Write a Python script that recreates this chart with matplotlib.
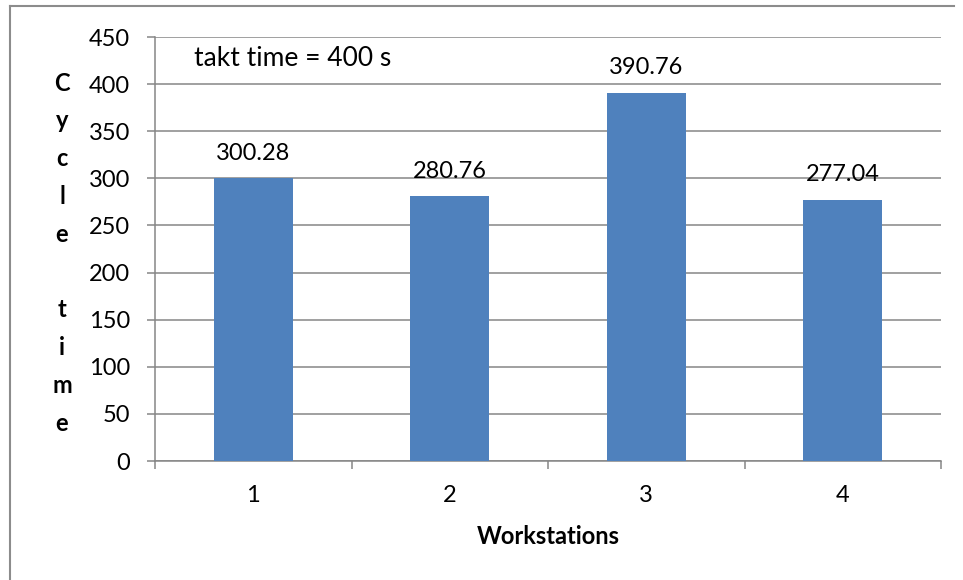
import matplotlib.pyplot as plt
from matplotlib.lines import Line2D

workstations = ["1", "2", "3", "4"]
cycle_times = [300.28, 280.76, 390.76, 277.04]
y_ticks = [0, 50, 100, 150, 200, 250, 300, 350, 400, 450]
takt_note = "takt time = 400 s"

plt.rcParams["font.family"] = ["Lato", "DejaVu Sans"]
grey = "#868686"

fig = plt.figure(figsize=(9.63, 5.80), dpi=100)
ax = fig.add_axes([155 / 963, 1 - 461 / 580, (941 - 155) / 963, (461 - 37) / 580])

x = list(range(len(workstations)))
ax.bar(x, cycle_times, width=0.4, color="#4F81BD", zorder=3)
for xi, v in zip(x, cycle_times):
    ax.annotate(f"{v:.2f}", (xi, v), xytext=(0, 18), textcoords="offset points",
                ha="center", va="center", fontsize=17, zorder=4)

ax.set_xlim(-0.5, len(workstations) - 0.5)
ax.set_ylim(0, 450)
ax.set_yticks(y_ticks)
ax.yaxis.grid(True, color=grey, linewidth=1.1, zorder=0)
ax.set_axisbelow(True)

ax.set_xticks(x)
ax.set_xticklabels(workstations)
ax.set_xticks([i - 0.5 for i in range(len(workstations) + 1)], minor=True)
ax.tick_params(axis="x", which="major", length=0, pad=17, labelsize=17)
ax.tick_params(axis="x", which="minor", length=6, width=1.1, color=grey)
ax.tick_params(axis="y", length=6, width=1.1, color=grey, pad=12, labelsize=17)

for side in ["top", "right"]:
    ax.spines[side].set_visible(False)
for side in ["left", "bottom"]:
    ax.spines[side].set_color(grey)
    ax.spines[side].set_linewidth(1.1)

ax.set_xlabel("Workstations", fontsize=17, fontweight="bold", labelpad=14)
ax.set_ylabel("C\ny\nc\nl\ne\n\nt\ni\nm\ne", rotation=0, fontsize=17,
              fontweight="bold", linespacing=1.78, va="center", ha="center")
ax.yaxis.set_label_coords(-93 / 786, 0.49)

ax.text(-0.30, 427, takt_note, ha="left", va="center", fontsize=19)

fig.add_artist(Line2D([10 / 963, 954 / 963], [1 - 6 / 580, 1 - 6 / 580],
                      transform=fig.transFigure, color="#8c8c8c", linewidth=1.5))
fig.add_artist(Line2D([10 / 963, 10 / 963], [0, 1 - 6 / 580],
                      transform=fig.transFigure, color="#8c8c8c", linewidth=1.5))

fig.savefig("out.png", dpi=100)
